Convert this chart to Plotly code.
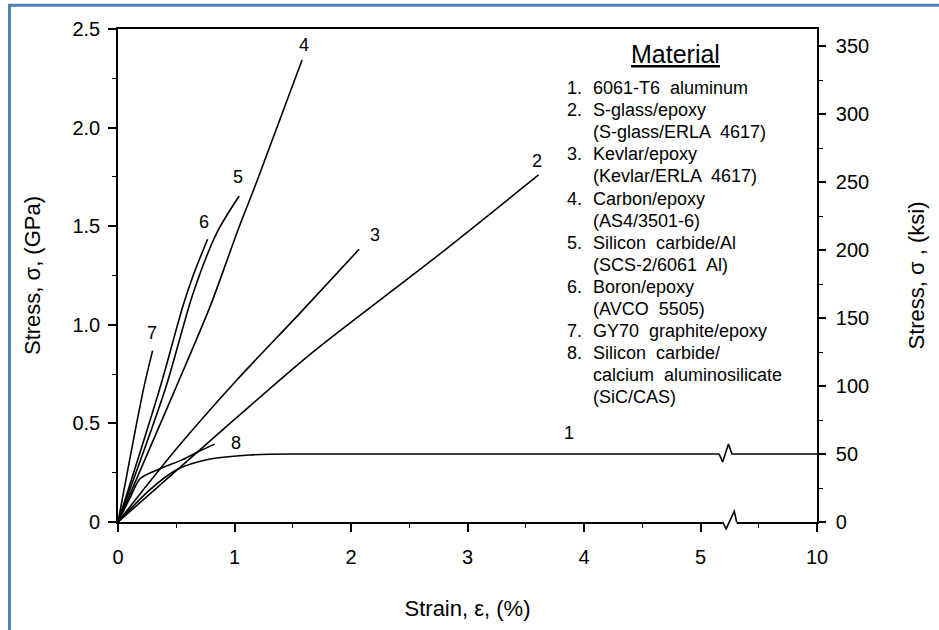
import plotly.graph_objects as go

# ---------------- data (strain in %, stress in GPa) ----------------
strain_1 = [0, 0.27, 0.50, 0.79, 1.13, 1.6, 5.16]
stress_1 = [0, 0.162, 0.264, 0.319, 0.340, 0.345, 0.345]
break_1_strain = [5.16, 5.19, 5.24, 5.27, 6.0]
break_1_stress = [0.345, 0.304, 0.395, 0.345, 0.345]

strain_2 = [0, 1.0, 1.67, 2.70, 3.61]
stress_2 = [0, 0.52, 0.86, 1.33, 1.76]

strain_3 = [0, 0.5, 1.02, 1.56, 2.07]
stress_3 = [0, 0.37, 0.72, 1.058, 1.383]

strain_4 = [0, 0.488, 0.79, 1.03, 1.19, 1.58]
stress_4 = [0, 0.669, 1.092, 1.481, 1.724, 2.343]

strain_5 = [0, 0.403, 0.645, 0.846, 1.04]
stress_5 = [0, 0.669, 1.16, 1.464, 1.653]

strain_6 = [0, 0.36, 0.56, 0.645, 0.769]
stress_6 = [0, 0.68, 1.10, 1.25, 1.434]

strain_7 = [0, 0.217, 0.297]
stress_7 = [0, 0.669, 0.869]

strain_8 = [0, 0.10, 0.19, 0.36, 0.55, 0.70, 0.83]
stress_8 = [0, 0.118, 0.22, 0.27, 0.315, 0.36, 0.395]

curve_labels = ["1", "2", "3", "4", "5", "6", "7", "8"]
label_strain = [3.87, 3.60, 2.21, 1.60, 1.03, 0.74, 0.29, 1.01]
label_stress = [0.45, 1.83, 1.455, 2.42, 1.75, 1.52, 0.96, 0.40]

x_tick_vals = [0, 1, 2, 3, 4, 5, 6]
x_tick_text = ["0", "1", "2", "3", "4", "5", "10"]
y_tick_vals = [0, 0.5, 1.0, 1.5, 2.0, 2.5]
y_tick_text = ["0", "0.5", "1.0", "1.5", "2.0", "2.5"]
ksi_tick_vals = [0, 50, 100, 150, 200, 250, 300, 350]
ksi_tick_text = ["0", "50", "100", "150", "200", "250", "300", "350"]
GPA_PER_KSI = 0.006895

axis_break_strain = [5.19, 5.22, 5.29, 5.31]
axis_break_stress = [0, -0.035, 0.055, 0]

legend_title = "Material"
legend_numbers = ["1.", "2.", "", "3.", "", "4.", "", "5.", "", "6.", "", "7.", "8.", "", ""]
legend_lines = ["6061-T6  aluminum", "S-glass/epoxy", "(S-glass/ERLA  4617)",
                "Kevlar/epoxy", "(Kevlar/ERLA  4617)", "Carbon/epoxy", "(AS4/3501-6)",
                "Silicon  carbide/Al", "(SCS-2/6061  Al)", "Boron/epoxy", "(AVCO  5505)",
                "GY70  graphite/epoxy", "Silicon  carbide/", "calcium  aluminosilicate",
                "(SiC/CAS)"]

# ---------------- layout geometry ----------------
W, H = 939, 630
ML, MR, MT, MB = 118, 122, 29, 108
PW, PH = W - ML - MR, H - MT - MB
X_MAX, Y_MAX = 6, 2.5
FONT = "Liberation Sans, Arial, Helvetica, sans-serif"


def px_x(p):
    return (p - ML) / PW


def px_y(p):
    return (H - MB - p) / PH


fig = go.Figure()
line = dict(color="black", width=1.6)
curves = [(strain_1, stress_1), (strain_2, stress_2), (strain_3, stress_3),
          (strain_4, stress_4), (strain_5, stress_5), (strain_6, stress_6),
          (strain_7, stress_7), (strain_8, stress_8)]
for i, (xs, ys) in enumerate(curves):
    fig.add_trace(go.Scatter(x=xs, y=ys, mode="lines",
                             line=dict(color="black", width=1.6, shape="spline", smoothing=0.8),
                             name=curve_labels[i], showlegend=False, hoverinfo="skip"))
# tail of curve 1 (with break mark), plotted against the ksi axis
fig.add_trace(go.Scatter(x=break_1_strain, y=[v / GPA_PER_KSI for v in break_1_stress],
                         yaxis="y2", mode="lines", line=line, name="1",
                         showlegend=False, hoverinfo="skip"))

# curve number labels
for t, xv, yv in zip(curve_labels, label_strain, label_stress):
    fig.add_annotation(x=xv, y=yv, xref="x", yref="y", text=t, showarrow=False,
                       font=dict(family=FONT, size=18, color="black"))

# legend-like text block
fig.add_annotation(x=px_x(675), y=px_y(54), xref="paper", yref="paper",
                   xanchor="center", yanchor="middle",
                   text='<span style="text-decoration:underline">%s</span>' % legend_title,
                   showarrow=False, font=dict(family=FONT, size=25, color="black"))
for i, (num, txt) in enumerate(zip(legend_numbers, legend_lines)):
    yc = px_y(88 + 22.1 * i)
    if num:
        fig.add_annotation(x=px_x(565), y=yc, xref="paper", yref="paper", text=num,
                           showarrow=False, xanchor="left", yanchor="middle",
                           font=dict(family=FONT, size=18, color="black"))
    fig.add_annotation(x=px_x(591), y=yc, xref="paper", yref="paper", text=txt,
                       showarrow=False, xanchor="left", yanchor="middle",
                       font=dict(family=FONT, size=18, color="black"))

# x-axis break mark
bx = [v / X_MAX for v in axis_break_strain]
by = [v / Y_MAX for v in axis_break_stress]
fig.add_shape(type="line", xref="paper", yref="paper", x0=bx[0], x1=bx[-1], y0=0, y1=0,
              line=dict(color="white", width=4), layer="above")
path = "M %f,%f " % (bx[0], by[0]) + " ".join("L %f,%f" % (a, b) for a, b in zip(bx[1:], by[1:]))
fig.add_shape(type="path", xref="paper", yref="paper", path=path,
              line=dict(color="black", width=1.6), layer="above")

# blue frame (left and top edges)
fig.add_shape(type="line", xref="paper", yref="paper", x0=px_x(9.5), x1=px_x(9.5),
              y0=px_y(4), y1=px_y(640), line=dict(color="#4f81bd", width=3), layer="above")
fig.add_shape(type="line", xref="paper", yref="paper", x0=px_x(8), x1=px_x(950),
              y0=px_y(5.3), y1=px_y(5.3), line=dict(color="#4f81bd", width=3), layer="above")

tick_font = dict(family=FONT, size=20, color="black")
title_font = dict(family=FONT, size=22, color="black")

fig.update_layout(
    width=W, height=H, autosize=False,
    margin=dict(l=ML, r=MR, t=MT, b=MB),
    paper_bgcolor="white", plot_bgcolor="white",
    showlegend=False,
    xaxis=dict(range=[0, X_MAX], tickvals=x_tick_vals, ticktext=x_tick_text,
               ticks="outside", ticklen=8, tickwidth=1.5, tickcolor="black",
               minor=dict(dtick=0.5, ticklen=4, ticks="outside", tickcolor="black", tickwidth=1.3),
               showline=True, linecolor="black", linewidth=1.6, mirror=True,
               showgrid=False, zeroline=False, tickfont=tick_font, layer="below traces",
               ticklabelstandoff=8,
               title=dict(text="Strain, ε, (%)", font=title_font, standoff=34)),
    yaxis=dict(range=[0, Y_MAX], tickvals=y_tick_vals, ticktext=y_tick_text,
               ticks="outside", ticklen=8, tickwidth=1.5, tickcolor="black",
               minor=dict(dtick=0.25, ticklen=4, ticks="outside", tickcolor="black", tickwidth=1.3),
               showline=True, linecolor="black", linewidth=1.6,
               showgrid=False, zeroline=False, tickfont=tick_font, ticklabelstandoff=4,
               title=dict(text="Stress, σ, (GPa)", font=title_font, standoff=26)),
    yaxis2=dict(range=[0, Y_MAX / GPA_PER_KSI], overlaying="y", side="right",
                tickvals=ksi_tick_vals, ticktext=ksi_tick_text,
                ticks="outside", ticklen=7, tickwidth=1.5, tickcolor="black",
                minor=dict(dtick=25, ticklen=4, ticks="outside", tickcolor="black", tickwidth=1.3),
                showline=True, linecolor="black", linewidth=1.6,
                showgrid=False, zeroline=False, tickfont=tick_font, ticklabelstandoff=6,
                title=dict(text="Stress, σ , (ksi)", font=title_font, standoff=40)),
)

fig.write_html("out.html", post_script="document.body.style.margin='0';",
               config={"displayModeBar": False})
